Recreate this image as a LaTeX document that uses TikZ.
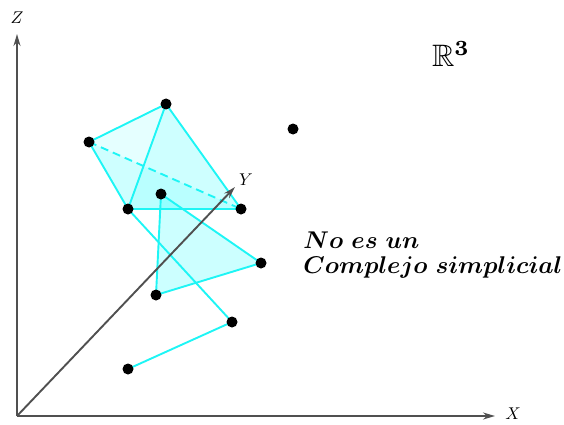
\documentclass[tikz,border=0pt]{standalone}
\usepackage{amssymb,amsmath}
\usetikzlibrary{arrows.meta}
\definecolor{edgecyan}{RGB}{30,245,245}
\definecolor{facecyan}{RGB}{0,255,255}
\definecolor{axisgray}{RGB}{80,80,80}
\tikzset{
  axis/.style={draw=axisgray, line width=1.9pt, -{Stealth[length=12pt,width=7pt]}},
  edge/.style={draw=edgecyan, line width=1.9pt},
  face/.style={fill=facecyan, fill opacity=0.1, draw=none},
  vtx/.style={circle, fill=black, inner sep=0pt, minimum size=11pt},
  axlabel/.style={scale=1.7, inner sep=0pt}
}
\begin{document}
\begin{tikzpicture}[x=1pt,y=-1pt]
\useasboundingbox (0,0) rectangle (564,425);
% coordinates
\coordinate (O) at (17,416);
\coordinate (Ztip) at (17,34);
\coordinate (Xtip) at (495,416);
\coordinate (Ytip) at (235,187);
% vertices
\coordinate (A) at (89,142);
\coordinate (B) at (166,104);
\coordinate (C) at (128,209);
\coordinate (D) at (241,209);
\coordinate (E) at (161,194);
\coordinate (F) at (261,263);
\coordinate (G) at (156,295);
\coordinate (H) at (232,322);
\coordinate (I) at (128,369);
\coordinate (P) at (293,129);
% faces
\fill[face] (A) -- (B) -- (C) -- cycle;
\fill[face] (B) -- (C) -- (D) -- cycle;
\fill[face] (B) -- (C) -- (D) -- cycle;
\fill[face] (A) -- (C) -- (D) -- cycle;
\fill[facecyan, fill opacity=0.2] (E) -- (F) -- (G) -- cycle;
% edges
\draw[edge] (A) -- (B) -- (D) -- (C) -- cycle;
\draw[edge] (B) -- (C);
\draw[edge, dash pattern=on 8pt off 5pt] (A) -- (D);
\draw[edge] (E) -- (F) -- (G) -- cycle;
\draw[edge] (C) -- (H) -- (I);
% axes
\draw[axis] (O) -- (Ztip);
\draw[axis] (O) -- (Xtip);
\draw[axis] (O) -- (Ytip);
\node[axlabel] (zl) at (17,18) {$Z$};
\node[axlabel] (xl) at (513,414) {$X$};
\node[axlabel] (yl) at (246,180) {$Y$};
% vertices on top
\foreach \v in {A,B,C,D,E,F,G,H,I,P} \node[vtx] (v\v) at (\v) {};
% labels
\node[inner sep=0pt, scale=3.1] (R3) at (451,54) {$\mathbb{R}^{\mathbf{3}}$};
\node[anchor=west, align=left, inner sep=0pt, scale=2.42, font=\fontsize{10}{10.3}\selectfont\boldmath] (txt) at (303,255)
  {$No\ es\ un$\\ $Complejo\ simplicial$};
\end{tikzpicture}
\end{document}
